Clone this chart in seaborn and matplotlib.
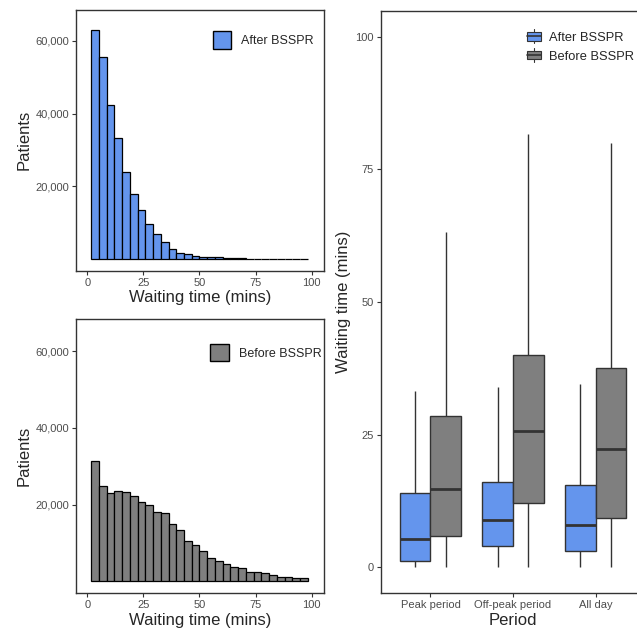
import numpy as np
import pandas as pd
import seaborn as sns
import matplotlib.pyplot as plt
from matplotlib.patches import Patch, Rectangle
from matplotlib.lines import Line2D
from matplotlib.legend_handler import HandlerBase
from matplotlib.ticker import FuncFormatter

# Histogram data: bin width 100/29, bins centred on multiples of it
bin_width = 100 / 29
bin_index = np.arange(1, 29)
after_counts = [63020, 55420, 42410, 33340, 23910, 18050, 13470, 9710, 7050, 4670,
                2880, 1740, 1370, 820, 730, 550, 550, 300, 260, 230,
                200, 180, 160, 140, 120, 110, 40, 30]
before_counts = [31500, 24800, 22900, 23650, 23200, 22350, 20600, 20000, 18150, 17800,
                 15000, 13350, 10600, 9450, 8000, 6050, 5200, 4400, 3800, 3550,
                 2500, 2400, 2250, 1550, 1200, 1200, 950, 950]

# Box plot summaries: min, q1, median, q3, max (whiskers run to min/max)
periods = ["Peak period", "Off-peak period", "All day"]
after_stats = {
    "Peak period": [0, 1.26, 5.35, 13.98, 33.3],
    "Off-peak period": [0, 4.03, 9.0, 16.0, 34.07],
    "All day": [0, 3.09, 8.06, 15.55, 34.57],
}
before_stats = {
    "Peak period": [0, 5.86, 14.7, 28.6, 63.1],
    "Off-peak period": [0, 12.03, 25.7, 40.0, 81.7],
    "All day": [0, 9.26, 22.2, 37.47, 79.9],
}
groups = ["After BSSPR", "Before BSSPR"]

blue = "#6495ED"
grey = "#7F7F7F"
dark = "#333333"
tick_grey = "#4D4D4D"

sns.set_style("white")
plt.rcParams["font.family"] = ["Liberation Sans", "DejaVu Sans"]

fig = plt.figure(figsize=(6.37, 6.29), dpi=100)
ax1 = fig.add_axes([0.1193, 0.5696, 0.3893, 0.4145])
ax2 = fig.add_axes([0.1193, 0.0568, 0.3893, 0.4361])
ax3 = fig.add_axes([0.5981, 0.0568, 0.4145, 0.9262])

edges = [(k + 0.5) * bin_width for k in range(29)]
centers = bin_index * bin_width


def style_axes(ax):
    for sp in ax.spines.values():
        sp.set_visible(True)
        sp.set_color(dark)
        sp.set_linewidth(1.0)
    ax.tick_params(axis="both", which="major", length=3, width=0.8, color=dark,
                   labelsize=8, labelcolor=tick_grey, pad=2, direction="out",
                   bottom=True, left=True)


for ax, counts, col, lab, lx, ly in [(ax1, after_counts, blue, "After BSSPR", 0.551, 0.92),
                                     (ax2, before_counts, grey, "Before BSSPR", 0.54, 0.91)]:
    hist_df = pd.DataFrame({"wait": centers, "n": counts})
    sns.histplot(data=hist_df, x="wait", weights="n", bins=edges, color=col,
                 alpha=1, edgecolor="black", linewidth=0.9, ax=ax)
    ax.set_xlim(-5.05, 105.5)
    ax.set_ylim(-3150, 68450)
    ax.set_xticks([0, 25, 50, 75, 100])
    ax.set_yticks([20000, 40000, 60000])
    ax.yaxis.set_major_formatter(FuncFormatter(lambda v, p: f"{int(v):,}"))
    ax.set_xlabel("Waiting time (mins)", fontsize=12, labelpad=2)
    ax.set_ylabel("Patients", fontsize=12, labelpad=3)
    style_axes(ax)
    handle = Patch(facecolor=col, edgecolor="black", linewidth=1.0, label=lab)
    ax.legend(handles=[handle], loc="upper left", bbox_to_anchor=(lx, ly),
              frameon=False, fontsize=9, handlelength=1.5, handleheight=1.8,
              handletextpad=0.8, borderaxespad=0, borderpad=0)

# Box plot
rows = []
for g, stats in zip(groups, [after_stats, before_stats]):
    for p in periods:
        for v in stats[p]:
            rows.append({"Period": p, "Group": g, "Wait": v})
box_df = pd.DataFrame(rows)

sns.boxplot(data=box_df, x="Period", y="Wait", hue="Group", order=periods,
            hue_order=groups, palette=[blue, grey], whis=(0, 100), width=0.75,
            gap=0, linecolor=dark, linewidth=1.0, showfliers=False,
            medianprops={"linewidth": 2, "color": dark},
            whiskerprops={"color": dark}, capprops={"linewidth": 0},
            saturation=1, ax=ax3, legend=False)
ax3.set_xlim(-0.6, 2.6)
ax3.set_ylim(-4.9, 104.9)
ax3.set_yticks([0, 25, 50, 75, 100])
ax3.set_xlabel("Period", fontsize=12, labelpad=2)
ax3.set_ylabel("Waiting time (mins)", fontsize=12, labelpad=3)
style_axes(ax3)


class BoxHandler(HandlerBase):
    def create_artists(self, legend, orig_handle, xdescent, ydescent, width,
                       height, fontsize, trans):
        x0, y0 = -xdescent, -ydescent
        fc = orig_handle.get_facecolor()
        cx = x0 + width / 2
        whisk = Line2D([cx, cx], [y0 - height * 0.15, y0 + height * 1.15],
                       color=dark, linewidth=0.8, transform=trans)
        box = Rectangle((x0, y0 + height * 0.1), width, height * 0.8,
                        facecolor=fc, edgecolor=dark, linewidth=0.8,
                        transform=trans)
        med = Line2D([x0, x0 + width], [y0 + height / 2] * 2, color=dark,
                     linewidth=1.2, transform=trans)
        return [whisk, box, med]


box_handles = [Patch(facecolor=blue, label="After BSSPR"),
               Patch(facecolor=grey, label="Before BSSPR")]
ax3.legend(handles=box_handles, handler_map={Patch: BoxHandler()},
           loc="upper left", bbox_to_anchor=(0.553, 0.965), frameon=False,
           fontsize=9.3, handlelength=1.1, handleheight=0.9, handletextpad=0.6,
           labelspacing=0.45, borderaxespad=0, borderpad=0)

fig.savefig("out.png", dpi=100)
